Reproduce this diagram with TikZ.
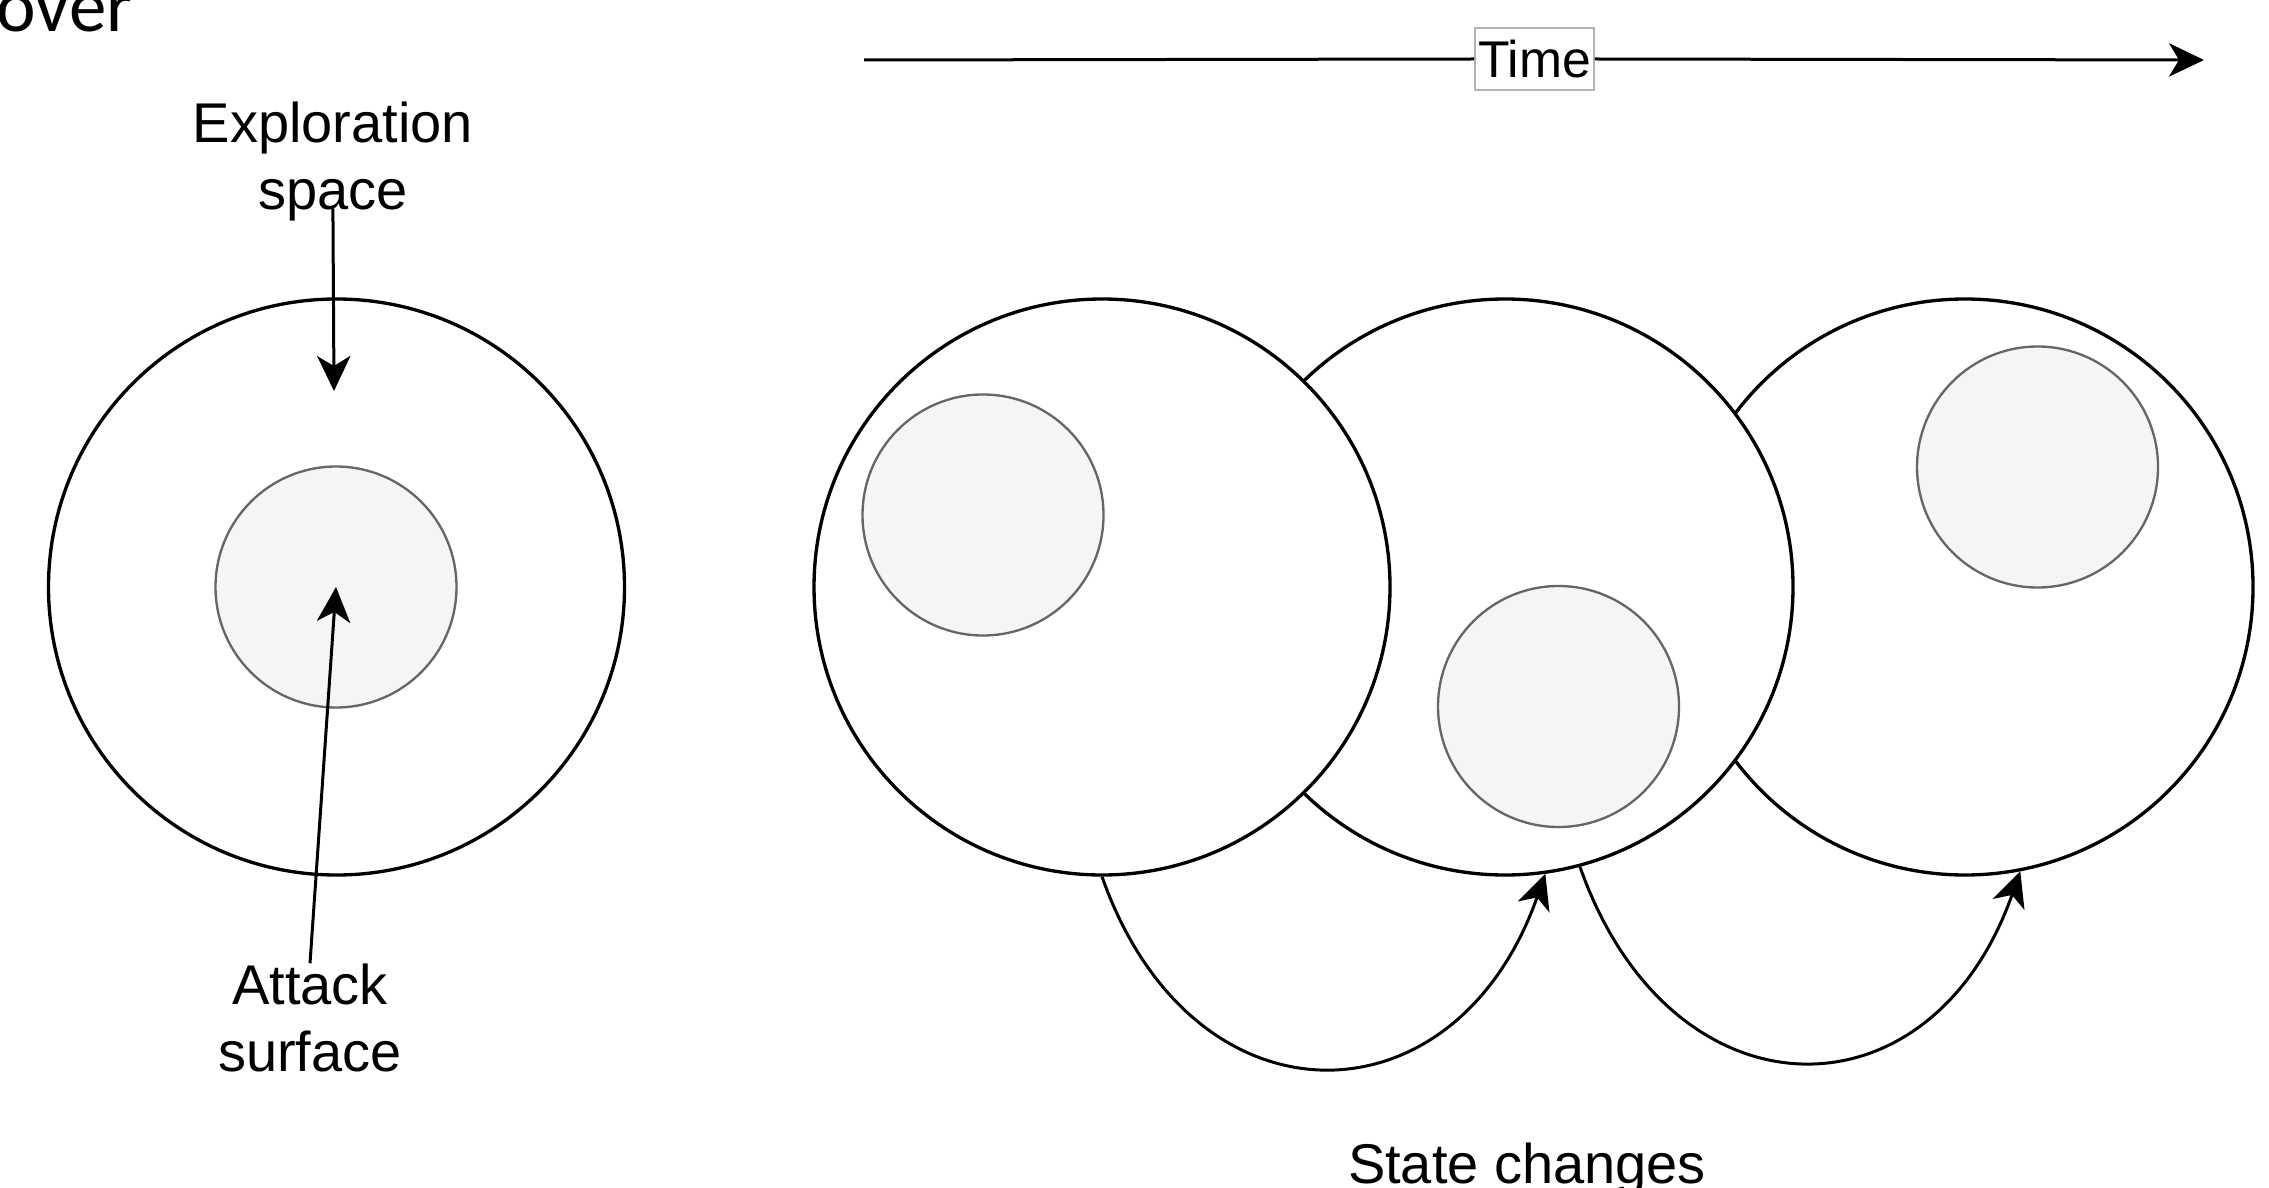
\documentclass[tikz,border=0pt]{standalone}
\usepackage{fontspec}
\setmainfont{Liberation Sans}
\newfontfamily\titlefont{Carlito}
\usetikzlibrary{arrows.meta,calc}

\definecolor{innerfill}{HTML}{F5F5F5}
\definecolor{innerline}{HTML}{666666}
\definecolor{boxline}{HTML}{B3B3B3}

\begin{document}
\begin{tikzpicture}[
  x=0.3pt, y=-0.3pt,
  space/.style={circle, draw=black, fill=white, line width=1pt,
    minimum size=172.8pt, inner sep=0pt},
  surf/.style={circle, draw=innerline, fill=innerfill, line width=0.7pt,
    minimum size=72.3pt, inner sep=0pt},
  lbl/.style={inner sep=0pt, font=\fontsize{16.8}{20.1}\selectfont},
  timebox/.style={draw=boxline, fill=white, line width=0.5pt,
    minimum width=35.7pt, minimum height=18.6pt, inner sep=0.5pt,
    font=\fontsize{15.5}{18}\selectfont},
  arr/.style={line width=0.9pt,
    -{Stealth[length=10.5pt,width=10pt,inset=3pt]}},
]
\useasboundingbox (0,0) rectangle (2269,1188);

% leftover slide heading
\node[anchor=base west, inner sep=0pt,
  font=\titlefont\fontsize{22.5}{27}\selectfont] (heading) at (-4,32) {over};

% single state: exploration space around the attack surface
\node[space] (bigL) at (336.5,587) {};
\node[surf] (smallL) at (336,587) {};

\node[lbl, align=center] (expl) at (333,162) {Exploration\\space};
\coordinate (expltip) at (334,391);
\draw[arr, shorten <=-4.2pt] (expl.south) -- (expltip);

\node[lbl, align=center] (att) at (310,1018) {Attack\\surface};
\draw[arr] (att.north) -- (smallL.center);

% time axis
\coordinate (tstart) at (864,60);
\coordinate (tend) at (2204,60);
\node[timebox] (time) at (1534.5,59) {Time};
\draw[line width=0.9pt] (tstart) -- (time.west);
\draw[arr] (time.east) -- (tend);

% states over time (later ones drawn first so earlier ones overlap them)
\node[space] (C) at (1965,587) {};
\node[surf] (sC) at (2037.5,467) {};
\node[space] (B) at (1505,587) {};
\node[surf] (sB) at (1558.5,706.5) {};
\node[space] (A) at (1102,587) {};
\node[surf] (sA) at (983,515) {};

% state transitions
\draw[arr] (A.south) .. controls ($(A.south)+(90,256)$) and ($(B.-82)+(-90,256)$) .. (B.-82);
\draw[arr] (B.-75) .. controls ($(B.-75)+(90,256)$) and ($(C.-79)+(-90,256)$) .. (C.-79);

\node[lbl, anchor=base] (states) at (1527,1183) {State changes};
\end{tikzpicture}
\end{document}
